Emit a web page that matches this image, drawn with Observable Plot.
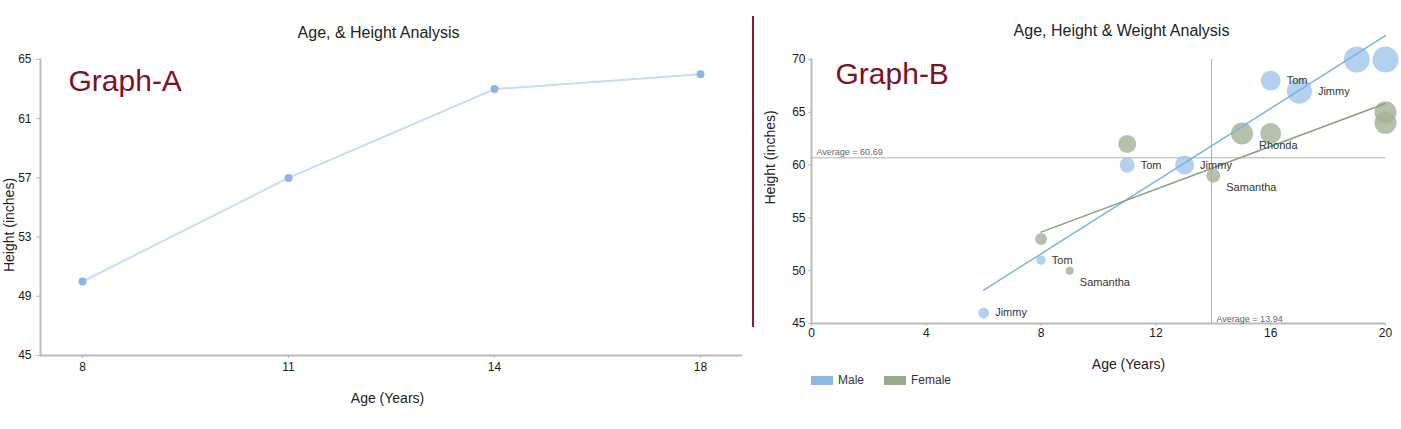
<!DOCTYPE html>
<html><head><meta charset="utf-8">
<script src="https://cdn.jsdelivr.net/npm/d3@7"></script>
<script src="https://cdn.jsdelivr.net/npm/@observablehq/plot@0.6"></script>
<style>
body{margin:0;background:#fff;font-family:"Liberation Sans",Arial,sans-serif;}
#wrap{position:relative;width:1401px;height:429px;overflow:hidden;background:#fff;}
#left{position:absolute;left:0;top:0;}
#right{position:absolute;left:760px;top:0;}
#divider{position:absolute;left:752px;top:16px;width:2px;height:311px;background:#8b1a2b;}
#ylabA{position:absolute;left:9px;top:225px;transform:translate(-50%,-50%) rotate(-90deg);font-size:14px;color:#222;white-space:nowrap;}
#legend{position:absolute;left:811px;top:373px;font-size:12px;color:#333;display:flex;align-items:center;}
#legend .sw{display:inline-block;width:22px;height:9px;margin-right:5px;}
#legend .item{display:flex;align-items:center;margin-right:20px;}
</style>
</head><body>
<div id="wrap">
  <div id="left"></div>
  <div id="ylabA"></div>
  <div id="divider"></div>
  <div id="right"></div>
  <div id="legend"></div>
</div>
<script>
// ---- Graph A data ----
const ageA = [8, 11, 14, 18];
const heightA = [50, 57, 63, 64];
const yTicksA = [45, 49, 53, 57, 61, 65];

// ---- Graph B data ----
const maleAge    = [6, 8, 11, 13, 16, 17, 19, 20];
const maleHeight = [46, 51, 60, 60, 68, 67, 70, 70];
const maleWeight = [30, 22, 57, 91, 100, 157, 170, 170];
const maleName   = ["Jimmy", "Tom", "Tom", "Jimmy", "Tom", "Jimmy", "", ""];

const femaleAge    = [8, 9, 11, 14, 15, 16, 20, 20];
const femaleHeight = [53, 50, 62, 59, 63, 63, 65, 64];
const femaleWeight = [36, 16, 82, 49, 122, 111, 122, 122];
const femaleName   = ["", "Samantha", "", "Samantha", "Rhonda", "", "", ""];

const xTicksB = [0, 4, 8, 12, 16, 20];
const yTicksB = [45, 50, 55, 60, 65, 70];
const genders = ["Male", "Female"];
const genderColors = ["#9fc5ea", "#a3b296"];
const lineColors = ["#7eb1e2", "#8d9f7e"];
const legendColors = ["#8db8e3", "#9aab8d"];

const titleA = "Age, & Height Analysis";
const titleB = "Age, Height & Weight Analysis";
const xLabel = "Age (Years)";
const yLabel = "Height (inches)";

const font = "Liberation Sans, Arial, sans-serif";
const axisColor = "#bbbbbb";
const tickText = "#1a1a1a";
const darkRed = "#7d1126";

// ---------- Graph A ----------
const dataA = ageA.map((a, i) => ({age: a, height: heightA[i]}));
const plotA = Plot.plot({
  width: 752, height: 429,
  marginLeft: 40, marginRight: 10, marginTop: 59, marginBottom: 74,
  style: {fontFamily: font, fontSize: "12px", color: "#222", background: "transparent"},
  x: {type: "point", domain: ageA, padding: 0.2},
  y: {domain: [45, 65]},
  marks: [
    Plot.ruleY([45], {stroke: axisColor, strokeWidth: 2}),
    Plot.frame({anchor: "left", stroke: axisColor, strokeWidth: 2}),
    Plot.axisX({ticks: ageA, tickSize: 3, tickPadding: 4, stroke: axisColor, fill: tickText, label: null}),
    Plot.axisY({ticks: yTicksA, tickSize: 4, tickPadding: 5, stroke: axisColor, fill: tickText, label: null}),
    Plot.line(dataA, {x: "age", y: "height", stroke: "#c5dcf3", strokeWidth: 2}),
    Plot.dot(dataA, {x: "age", y: "height", r: 4, fill: "#8db5e6"}),
    Plot.text([titleA], {frameAnchor: "top", dx: -13, dy: -27, fontSize: 16, fill: "#222", lineAnchor: "middle"}),
    Plot.text(["Graph-A"], {frameAnchor: "top-left", textAnchor: "start", lineAnchor: "top", dx: 28, dy: 10, fontSize: 30, fill: darkRed}),
    Plot.text([xLabel], {frameAnchor: "bottom", dx: -4, dy: 43, fontSize: 14, fill: "#222", lineAnchor: "middle"})
  ]
});
document.getElementById("left").appendChild(plotA);
document.getElementById("ylabA").textContent = yLabel;

// ---------- Graph B ----------
const males = maleAge.map((a, i) => ({gender: "Male", age: a, height: maleHeight[i], weight: maleWeight[i], name: maleName[i]}));
const females = femaleAge.map((a, i) => ({gender: "Female", age: a, height: femaleHeight[i], weight: femaleWeight[i], name: femaleName[i]}));
const all = males.concat(females);
const avgHeight = d3.mean(all, d => d.height);
const avgAge = d3.mean(all, d => d.age);

const rOpts = {type: "sqrt", domain: [0, 170], range: [0, 13]};
const rScale = Plot.scale({r: rOpts});

const labelMarks = all.filter(d => d.name).map(d =>
  Plot.text([d], {x: "age", y: "height", text: "name", textAnchor: "start",
    dx: rScale.apply(d.weight) + 6, dy: d.gender === "Female" ? 12 : 0,
    fontSize: 11, fill: "#333"})
);

const plotB = Plot.plot({
  width: 641, height: 372,
  marginLeft: 51, marginRight: 16, marginTop: 59, marginBottom: 49,
  style: {fontFamily: font, fontSize: "12px", color: "#222", background: "transparent", overflow: "visible"},
  x: {domain: [0, 20]},
  y: {domain: [45, 70]},
  r: rOpts,
  color: {domain: genders, range: genderColors},
  marks: [
    Plot.ruleY([45], {stroke: axisColor, strokeWidth: 2}),
    Plot.frame({anchor: "left", stroke: axisColor, strokeWidth: 2}),
    Plot.axisX({ticks: xTicksB, tickSize: 3, tickPadding: 2, stroke: axisColor, fill: tickText, label: null}),
    Plot.axisY({ticks: yTicksB, tickSize: 3, tickPadding: 3, stroke: axisColor, fill: tickText, label: null}),
    Plot.ruleY([avgHeight], {stroke: "#b0b0b0", strokeWidth: 1}),
    Plot.ruleX([avgAge], {stroke: "#b0b0b0", strokeWidth: 1}),
    Plot.text([avgHeight], {y: d => d, text: d => `Average = ${d.toFixed(2)}`, frameAnchor: "left", textAnchor: "start", lineAnchor: "bottom", dx: 5, dy: -3, fontSize: 9, fill: "#666"}),
    Plot.text([avgAge], {x: d => d, text: d => `Average = ${d.toFixed(2)}`, frameAnchor: "bottom", textAnchor: "start", lineAnchor: "bottom", dx: 5, dy: -2, fontSize: 9, fill: "#666"}),
    Plot.dot(all, {x: "age", y: "height", r: "weight", fill: "gender", fillOpacity: 0.8}),
    Plot.linearRegressionY(males, {x: "age", y: "height", stroke: lineColors[0], strokeWidth: 1.5, ci: 0}),
    Plot.linearRegressionY(females, {x: "age", y: "height", stroke: lineColors[1], strokeWidth: 1.5, ci: 0}),
    ...labelMarks,
    Plot.text([titleB], {frameAnchor: "top", dx: 23, dy: -29, fontSize: 16, fill: "#222", lineAnchor: "middle"}),
    Plot.text(["Graph-B"], {frameAnchor: "top-left", textAnchor: "start", lineAnchor: "top", dx: 24, dy: 3, fontSize: 30, fill: darkRed}),
    Plot.text([xLabel], {frameAnchor: "bottom", dx: 30, dy: 41, fontSize: 14, fill: "#222", lineAnchor: "middle"}),
    Plot.text([yLabel], {frameAnchor: "left", rotate: -90, dx: -41, dy: 13, fontSize: 14, fill: "#222", lineAnchor: "middle"})
  ]
});
document.getElementById("right").appendChild(plotB);

// legend
const legend = document.getElementById("legend");
genders.forEach((g, i) => {
  const item = document.createElement("div");
  item.className = "item";
  const sw = document.createElement("span");
  sw.className = "sw";
  sw.style.background = legendColors[i];
  const t = document.createElement("span");
  t.textContent = g;
  item.appendChild(sw); item.appendChild(t);
  legend.appendChild(item);
});
</script>
</body></html>
